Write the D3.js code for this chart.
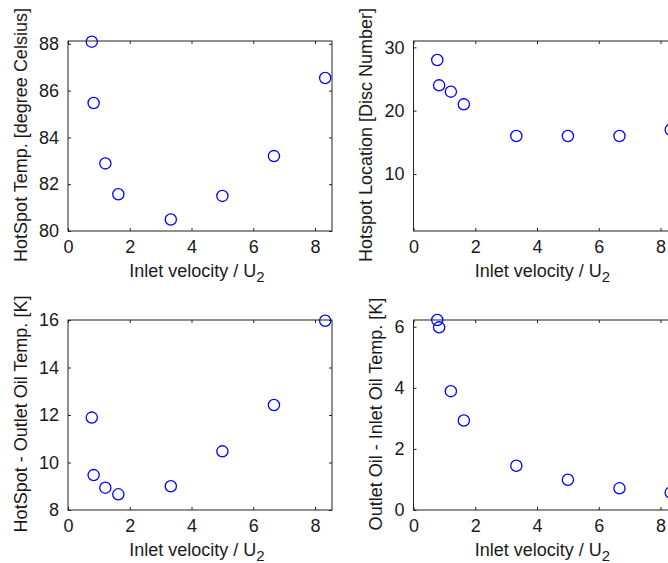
<!DOCTYPE html>
<html>
<head>
<meta charset="utf-8">
<script src="https://cdn.jsdelivr.net/npm/d3@7"></script>
<style>
  body { margin: 0; background: #fff; }
  text { font-family: "Liberation Sans", Arial, sans-serif; fill: #1a1a1a; }
</style>
</head>
<body>
<div id="wrapper"></div>
<script>
// data
const velocity = [0.77, 0.83, 1.21, 1.63, 3.33, 5.0, 6.67, 8.33]
const hotspotTemp = [88.09, 85.47, 82.89, 81.57, 80.49, 81.50, 83.20, 86.54]
const hotspotLocation = [28, 24, 23, 21, 16, 16, 16, 17]
const hotspotMinusOutlet = [11.89, 9.47, 8.94, 8.66, 9.0, 10.47, 12.42, 15.97]
const outletMinusInlet = [6.22, 5.98, 3.89, 2.93, 1.45, 0.99, 0.71, 0.57]
const xTicks = [0, 2, 4, 6, 8]
const xLabel = "Inlet velocity / U"

const panels = [
    { values: hotspotTemp, yDomain: [80, 88.12], yTicks: [80, 82, 84, 86, 88], yLabel: "HotSpot Temp. [degree Celsius]" },
    { values: hotspotLocation, yDomain: [1, 31], yTicks: [10, 20, 30], yLabel: "Hotspot Location [Disc Number]" },
    { values: hotspotMinusOutlet, yDomain: [8, 16], yTicks: [8, 10, 12, 14, 16], yLabel: "HotSpot - Outlet Oil Temp. [K]" },
    { values: outletMinusInlet, yDomain: [0, 6.22], yTicks: [0, 2, 4, 6], yLabel: "Outlet Oil - Inlet Oil Temp. [K]" },
]

const width = 668
const height = 563
// axes boxes of the 2x2 grid
const boxW = 264
const boxH = 190
const lefts = [68, 413.5]
const tops = [41, 320]

const svg = d3.select("#wrapper").append("svg")
    .attr("width", width).attr("height", height)

panels.forEach((p, i) => {
    const x0 = lefts[i % 2]
    const y0 = tops[Math.floor(i / 2)]
    const g = svg.append("g").attr("transform", `translate(${x0},${y0})`)

    const xScale = d3.scaleLinear().domain([0, 8.55]).range([0, boxW])
    const yScale = d3.scaleLinear().domain(p.yDomain).range([boxH, 0])

    // inward ticks on all four sides, labels only bottom/left
    const bottom = g.append("g").attr("transform", `translate(0,${boxH})`)
        .call(d3.axisBottom(xScale).tickValues(xTicks).tickSizeInner(-3).tickSizeOuter(0).tickPadding(9).tickFormat(d3.format("d")))
    const top = g.append("g")
        .call(d3.axisTop(xScale).tickValues(xTicks).tickSizeInner(-3).tickSizeOuter(0).tickFormat(""))
    const left = g.append("g")
        .call(d3.axisLeft(yScale).tickValues(p.yTicks).tickSizeInner(-3).tickSizeOuter(0).tickPadding(9).tickFormat(d3.format("d")))
    const right = g.append("g").attr("transform", `translate(${boxW},0)`)
        .call(d3.axisRight(yScale).tickValues(p.yTicks).tickSizeInner(-3).tickSizeOuter(0).tickFormat(""))

    ;[bottom, top, left, right].forEach(a => {
        a.select(".domain").remove()
        a.selectAll("line").attr("stroke", "#222")
        a.selectAll("text").style("font-size", "18px").attr("fill", "#1a1a1a")
    })
    bottom.selectAll("text").attr("dy", "0.72em")

    // box
    g.append("rect")
        .attr("x", 0).attr("y", 0)
        .attr("width", boxW).attr("height", boxH)
        .attr("fill", "none").attr("stroke", "#222").attr("stroke-width", 1)

    // points
    g.selectAll("circle").data(velocity).enter().append("circle")
        .attr("cx", d => xScale(d))
        .attr("cy", (d, j) => yScale(p.values[j]))
        .attr("r", 5.6)
        .attr("fill", "none")
        .attr("stroke", "#0000ff")
        .attr("stroke-width", 1.3)

    // x label with subscript
    const xl = g.append("text")
        .attr("x", boxW / 2 - 3)
        .attr("y", boxH + 46)
        .attr("text-anchor", "middle")
        .style("font-size", "18px")
    xl.append("tspan").text(xLabel)
    xl.append("tspan").attr("dy", 5).style("font-size", "15px").text("2")

    // y label sits just left of the widest tick label
    let tickLeft = 0
    left.selectAll("text").each(function () {
        tickLeft = Math.min(tickLeft, this.getBBox().x)
    })
    g.append("text")
        .attr("transform", `translate(${tickLeft - 12},${boxH / 2 - 1}) rotate(-90)`)
        .attr("text-anchor", "middle")
        .style("font-size", "18px")
        .text(p.yLabel)
})
</script>
</body>
</html>
